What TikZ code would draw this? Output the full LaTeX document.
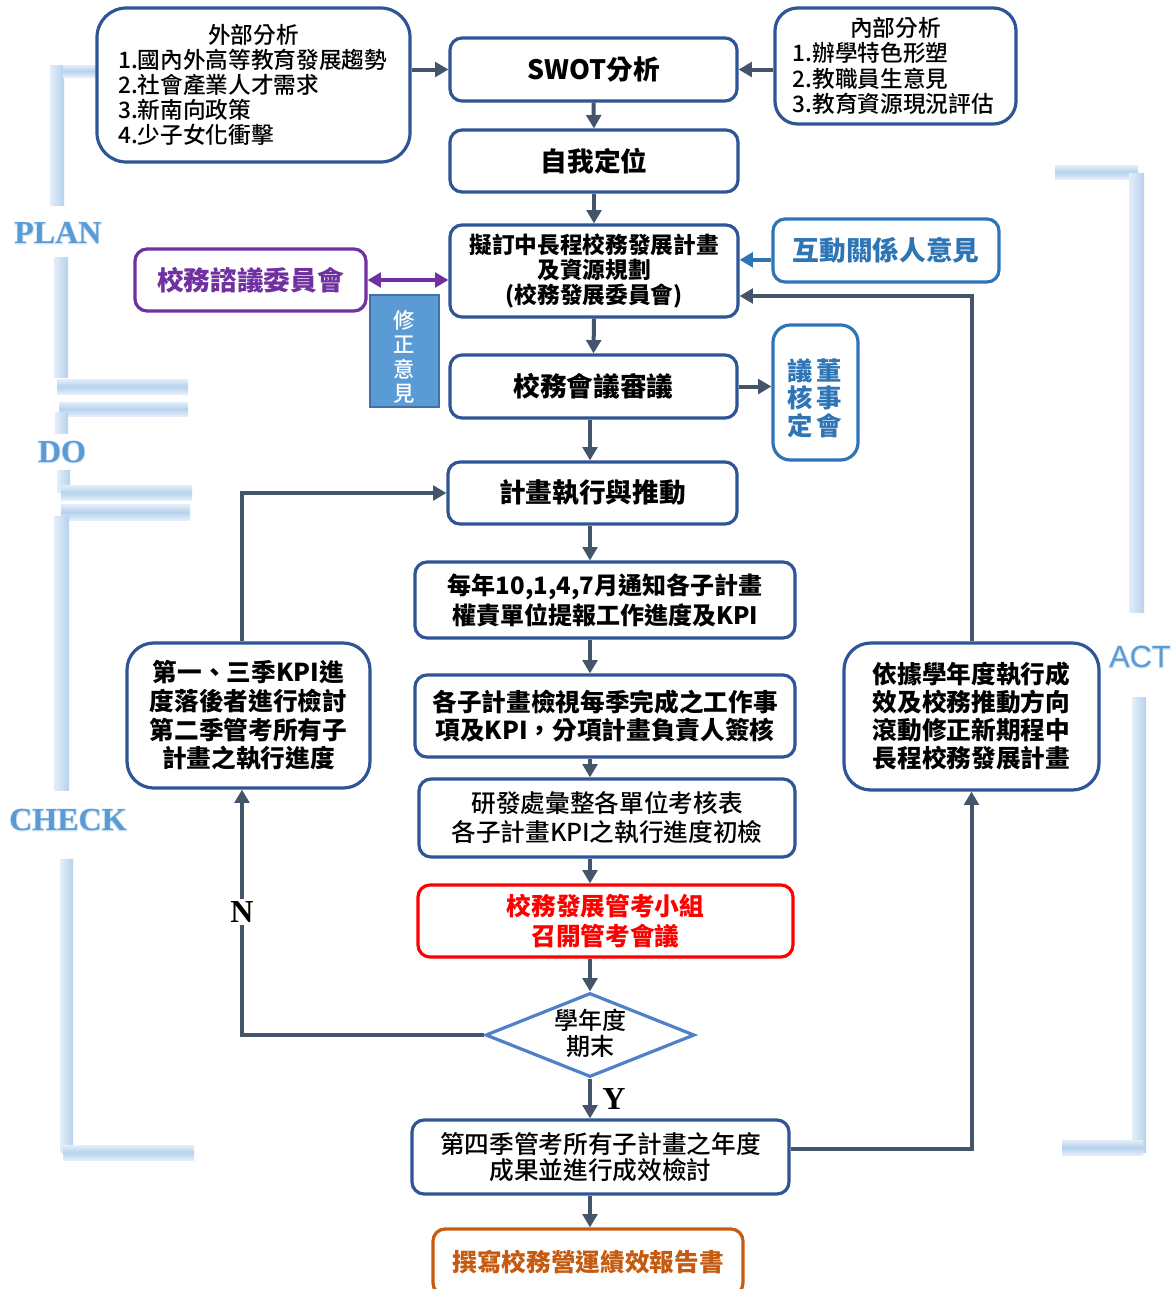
\documentclass[tikz,border=0pt]{standalone}
\usepackage{fontspec}
\setmainfont{Noto Sans CJK TC}
\newfontfamily\medf{Noto Sans CJK TC Medium}
\newfontfamily\serifb{Liberation Serif}
\newfontfamily\serifglow{Liberation Serif}[FakeBold=5]
\newfontfamily\sansb{Liberation Sans}
\newfontfamily\sansglow{Liberation Sans}[FakeBold=5]
\usetikzlibrary{arrows.meta,shapes.geometric,calc}
\definecolor{boxc}{RGB}{47,85,151}
\definecolor{arrc}{RGB}{68,84,106}
\definecolor{stakec}{RGB}{46,117,182}
\definecolor{purp}{RGB}{112,48,160}
\definecolor{orng}{RGB}{197,90,17}
\definecolor{revf}{RGB}{91,155,213}
\definecolor{revd}{RGB}{65,113,170}
\definecolor{diac}{RGB}{79,129,200}
\definecolor{pdcac}{RGB}{91,155,213}
\definecolor{glowc}{RGB}{205,225,245}
\definecolor{barL}{RGB}{228,238,249}
\definecolor{barD}{RGB}{182,210,237}
\begin{document}
\begin{tikzpicture}[x=0.75pt,y=-0.75pt,
  box/.style={draw=boxc, line width=2.4pt, fill=white, rounded corners=9pt, align=center, inner sep=0pt, font=\bfseries},
  arr/.style={draw=arrc, line width=3pt, -{Triangle[length=10pt,width=11pt]}},
  darr/.style={line width=3pt, {Triangle[length=10pt,width=11pt]}-{Triangle[length=10pt,width=11pt]}},
  vbar/.style={left color=barL, right color=barD, draw=none},
  hbar/.style={top color=barL, bottom color=barL, middle color=barD, draw=none},
  pdca/.style={text=pdcac, font=\serifb\bfseries\fontsize{24}{24}\selectfont, inner sep=0pt},
  pglow/.style={text=glowc, font=\serifglow\bfseries\fontsize{24}{24}\selectfont, inner sep=0pt},
  yn/.style={font=\serifb\bfseries\fontsize{24}{24}\selectfont, inner sep=2pt}
]
\useasboundingbox (0,0) rectangle (1176,1289);
\clip (0,0) rectangle (1176,1289);
\fill[white] (0,0) rectangle (1176,1289);

% PDCA bars (left)
\shade[vbar] (50,65) rectangle (64,205);
\shade[hbar] (63,65) rectangle (97,77);
\shade[vbar] (54,257) rectangle (68,377);
\shade[hbar] (57,379) rectangle (188,394);
\shade[hbar] (59,402) rectangle (188,416);
\shade[vbar] (55,412) rectangle (68,433);
\shade[vbar] (57,470) rectangle (70,492);
\shade[hbar] (61,485) rectangle (192,500);
\shade[hbar] (61,504) rectangle (190,520);
\shade[vbar] (54,516) rectangle (69,790);
\shade[vbar] (60,859) rectangle (73,1152);
\shade[hbar] (63,1145) rectangle (194,1160);
% PDCA bars (right)
\shade[hbar] (1055,165) rectangle (1138,179);
\shade[vbar] (1129,173) rectangle (1144,612);
\shade[vbar] (1132,697) rectangle (1146,1152);
\shade[hbar] (1062,1140) rectangle (1143,1155);

\node[pglow] (planglow) at (58,233) {PLAN};
\node[pdca] (plantxt) at (58,233) {PLAN};
\node[pglow] (doglow) at (62,452) {DO};
\node[pdca] (dotxt) at (62,452) {DO};
\node[pglow] (checkglow) at (68,820) {CHECK};
\node[pdca] (checktxt) at (68,820) {CHECK};
\node[pglow, font=\sansglow\fontsize{23}{23}\selectfont] (actglow) at (1140,657) {ACT};
\node[pdca, font=\sansb\fontsize{23}{23}\selectfont] (acttxt) at (1140,657) {ACT};

% boxes
\node[box, rounded corners=22pt, minimum width=234.75pt, minimum height=115.5pt, text width=203pt, align=left, font=\medf\fontsize{17}{18.75}\selectfont] (ext) at (253.5,85)
 {\makebox[\linewidth][c]{外部分析}\\1.國內外高等教育發展趨勢\\2.社會產業人才需求\\3.新南向政策\\4.少子女化衝擊};
\node[box, minimum width=215.25pt, minimum height=47.25pt, font=\bfseries\fontsize{20}{22}\selectfont] (swot) at (593.5,69.5) {SWOT分析};
\node[box, rounded corners=17pt, minimum width=180.75pt, minimum height=87pt, text width=154pt, align=left, font=\medf\fontsize{17}{19}\selectfont] (int) at (895.5,66)
 {\makebox[\linewidth][c]{內部分析}\\1.辦學特色形塑\\2.教職員生意見\\3.教育資源現況評估};
\node[box, minimum width=216pt, minimum height=46.5pt, font=\bfseries\fontsize{20}{22}\selectfont] (self) at (594,161) {自我定位};
\node[box, minimum width=216pt, minimum height=69pt, font=\bfseries\fontsize{17}{19}\selectfont] (plan) at (594,271) {擬訂中長程校務發展計畫\\及資源規劃\\(校務發展委員會)};
\node[box, draw=stakec, text=stakec, minimum width=169.5pt, minimum height=47.25pt, font=\bfseries\fontsize{20}{22}\selectfont] (stake) at (886,250.5) {互動關係人意見};
\node[box, draw=purp, text=purp, minimum width=173.25pt, minimum height=46.5pt, font=\bfseries\fontsize{20}{22}\selectfont] (consult) at (250.5,280) {校務諮議委員會};
\node[draw=revd, fill=revf, line width=1.5pt, minimum width=51.75pt, minimum height=84pt, inner sep=0pt] (revise) at (404.5,351) {};
\node[text=white, inner sep=0pt, align=center, font=\medf\fontsize{16}{18.4}\selectfont] (revt) at (404,357) {修\\正\\意\\見};
\node[box, minimum width=215.25pt, minimum height=47.25pt, font=\bfseries\fontsize{20}{22}\selectfont] (meeting) at (593.5,386.5) {校務會議審議};
\node[box, draw=stakec, rounded corners=13pt, minimum width=63.75pt, minimum height=101.25pt] (board) at (815.5,392.5) {};
\node[text=stakec, align=center, inner sep=0pt, font=\bfseries\fontsize{19}{20.6}\selectfont] (boardr) at (829,398) {董\\事\\會};
\node[text=stakec, align=center, inner sep=0pt, font=\bfseries\fontsize{19}{20.6}\selectfont] (boardl) at (800,398) {議\\核\\定};
\node[box, minimum width=216.75pt, minimum height=46.5pt, font=\bfseries\fontsize{20}{22}\selectfont] (exec) at (592.5,493) {計畫執行與推動};
\node[box, minimum width=285pt, minimum height=57pt, font=\bfseries\fontsize{18}{22.5}\selectfont] (notify) at (605,600) {每年10,1,4,7月通知各子計畫\\權責單位提報工作進度及KPI};
\node[box, minimum width=285pt, minimum height=61.5pt, font=\bfseries\fontsize{18.5}{21}\selectfont] (review) at (605,716) {各子計畫檢視每季完成之工作事\\項及KPI，分項計畫負責人簽核};
\node[box, minimum width=282pt, minimum height=58.5pt, font=\medf\fontsize{18.5}{21.75}\selectfont] (rnd) at (607,818) {研發處彙整各單位考核表\\各子計畫KPI之執行進度初檢};
\node[box, draw=red, text=red, minimum width=281.25pt, minimum height=54pt, font=\bfseries\fontsize{18.5}{23}\selectfont] (mgmt) at (605.5,921) {校務發展管考小組\\召開管考會議};
\node[diamond, draw=diac, line width=2.4pt, fill=white, minimum width=156.75pt, minimum height=63pt, inner sep=0pt, aspect=2.5] (dia) at (590,1035) {};
\node[align=center, inner sep=0pt, font=\medf\fontsize{18}{19.5}\selectfont] (diat) at (590,1033) {學年度\\期末};
\node[box, minimum width=282.75pt, minimum height=55.5pt, font=\medf\fontsize{18.5}{19.5}\selectfont] (q4) at (600.5,1157) {第四季管考所有子計畫之年度\\成果並進行成效檢討};
\node[box, draw=orng, text=orng, minimum width=232.5pt, minimum height=49.5pt, font=\bfseries\fontsize{18.5}{22}\selectfont] (report) at (588,1262) {撰寫校務營運績效報告書};
\node[box, rounded corners=20pt, minimum width=182.25pt, minimum height=108.75pt, font=\bfseries\fontsize{18.5}{21.5}\selectfont] (q13) at (248.5,715.5) {第一、三季KPI進\\度落後者進行檢討\\第二季管考所有子\\計畫之執行進度};
\node[box, rounded corners=20pt, minimum width=191.25pt, minimum height=110.25pt, font=\bfseries\fontsize{18.5}{21}\selectfont] (act) at (971.5,716.5) {依據學年度執行成\\效及校務推動方向\\滾動修正新期程中\\長程校務發展計畫};

% connectors
\coordinate (spine) at (590,0);
\draw[arr] (swot.west -| ext.east) -- (swot.west);
\draw[arr] (swot.east -| int.west) -- (swot.east);
\draw[arr] (swot.south) -- (self.north);
\draw[arr] (self.south) -- (plan.north);
\draw[arr] (plan.south) -- (meeting.north);
\draw[arr, draw=stakec] ([yshift=-7pt]stake.west) -- ([yshift=-7pt]stake.west -| plan.east);
\draw[arr] (act.north) |- ([yshift=-18.75pt]plan.east);
\draw[darr, draw=purp] (consult.east) -- (consult.east -| plan.west);
\draw[arr] (meeting.east) -- (meeting.east -| board.west);
\draw[arr] (meeting.south -| spine) -- (exec.north -| spine);
\draw[arr] ([xshift=-4.9pt]q13.north) |- (exec.west);
\draw[arr] (exec.south -| spine) -- (notify.north -| spine);
\draw[arr] (notify.south -| spine) -- (review.north -| spine);
\draw[arr] (review.south -| spine) -- (rnd.north -| spine);
\draw[arr] (rnd.south -| spine) -- (mgmt.north -| spine);
\draw[arr] (mgmt.south -| spine) -- (dia.north);
\draw[arr] (dia.south) -- (q4.north -| dia.south);
\draw[arr] (dia.west) -| ([xshift=-4.9pt]q13.south);
\draw[arr] ([yshift=6pt]q4.east) -| (act.south);
\draw[arr] (q4.south -| spine) -- (report.north -| spine);
\node[yn, fill=white] (nlab) at (242,912) {N};
\node[yn] (ylab) at (614,1099) {Y};
\end{tikzpicture}
\end{document}
